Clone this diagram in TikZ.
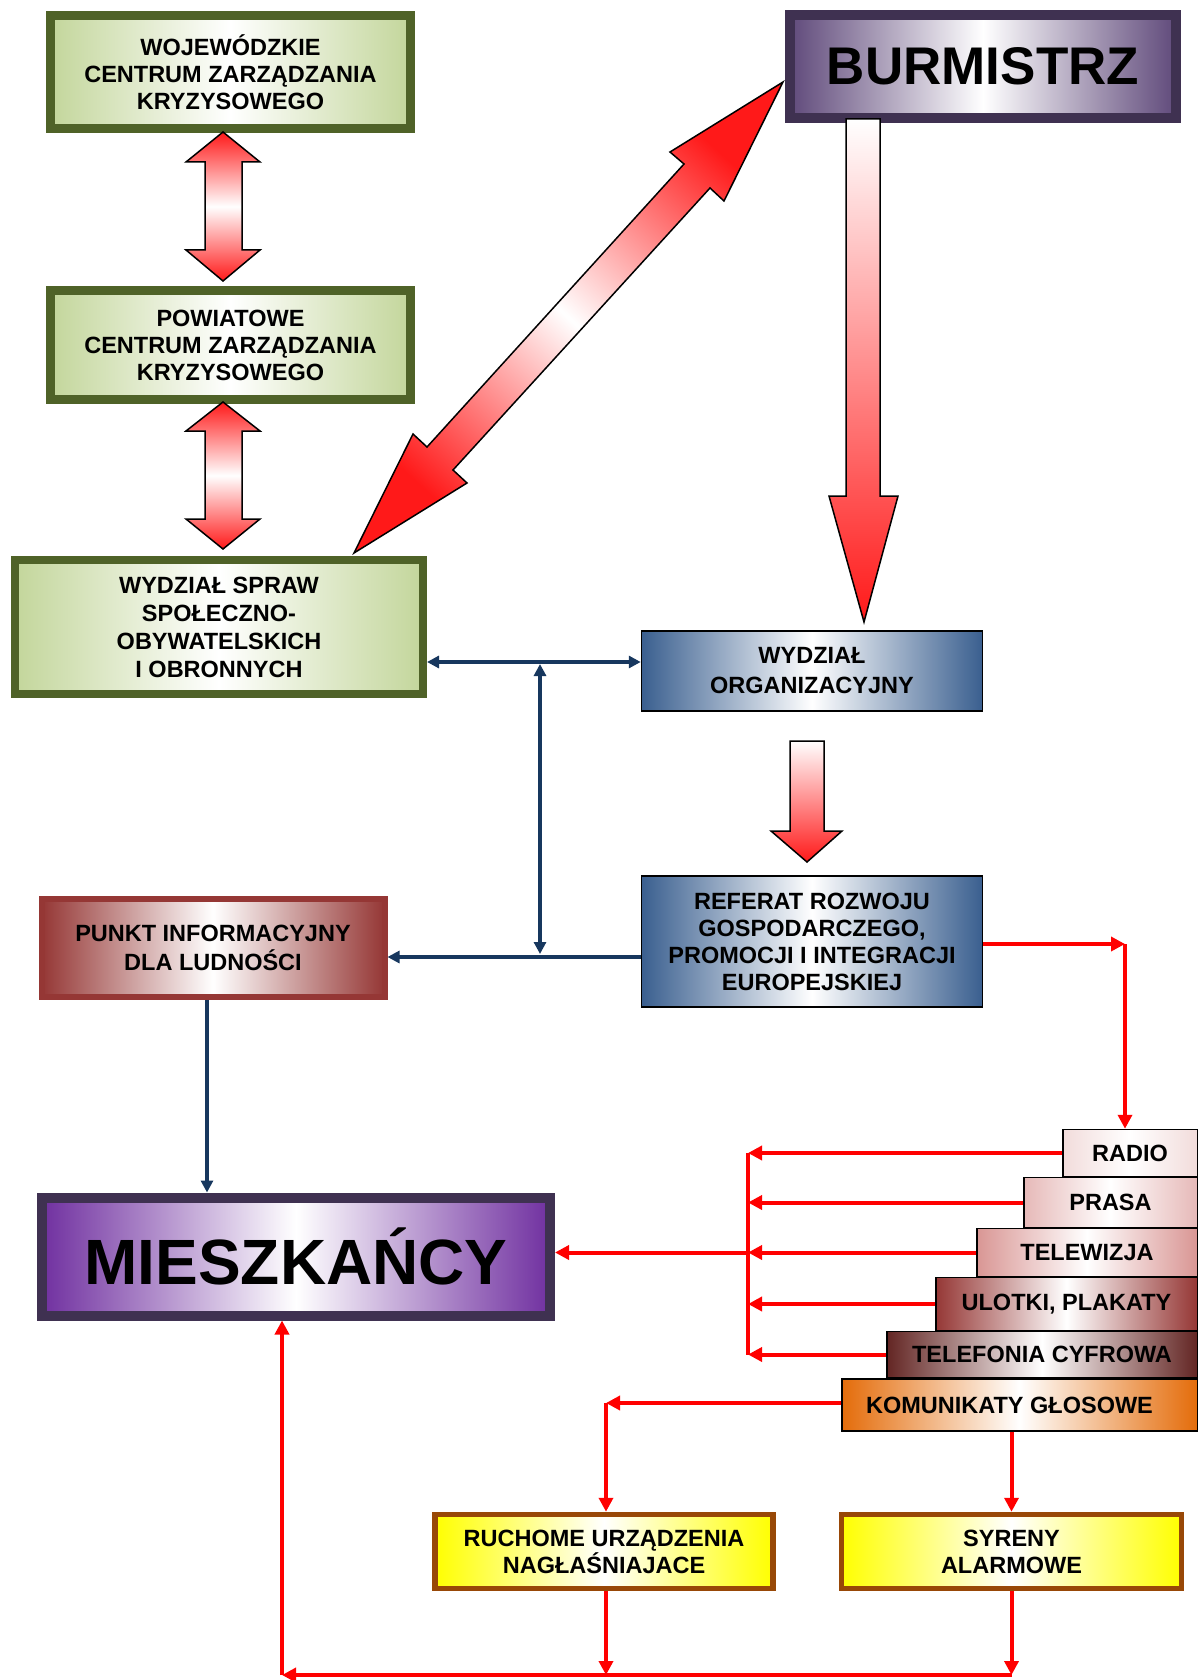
\documentclass[tikz,border=0pt]{standalone}
\usepackage{fontspec}
\setmainfont{Liberation Sans}
\usetikzlibrary{arrows.meta,calc}
\definecolor{greenside}{RGB}{195,214,155}
\definecolor{greenborder}{RGB}{79,98,40}
\definecolor{burmborder}{RGB}{63,49,81}
\definecolor{burmside}{RGB}{96,74,123}
\definecolor{blueside}{RGB}{58,95,143}
\definecolor{punktside}{RGB}{149,55,53}
\definecolor{miesside}{RGB}{112,48,160}
\definecolor{radioside}{RGB}{242,220,219}
\definecolor{prasaside}{RGB}{230,185,184}
\definecolor{tvside}{RGB}{217,150,148}
\definecolor{ulotside}{RGB}{149,55,53}
\definecolor{telside}{RGB}{99,37,35}
\definecolor{komside}{RGB}{228,108,10}
\definecolor{yelside}{RGB}{255,255,0}
\definecolor{yelborder}{RGB}{152,72,7}
\definecolor{redline}{RGB}{255,0,0}
\definecolor{blueline}{RGB}{23,55,94}
\definecolor{arrowred}{RGB}{255,25,25}
\tikzset{
  box/.style={inner sep=0pt, align=center, text=black, font=\fontsize{23.5}{27}\selectfont\bfseries},
  greenbox/.style={box, draw=greenborder, line width=9pt, left color=greenside, right color=greenside, middle color=white},
  burmbox/.style={box, draw=burmborder, line width=10pt, left color=burmside, right color=burmside, middle color=white, font=\fontsize{53}{60}\selectfont\bfseries},
  bluebox/.style={box, draw=black, line width=1.5pt, left color=blueside, right color=blueside, middle color=white},
  punktbox/.style={box, draw=punktside, line width=6pt, left color=punktside, right color=punktside, middle color=white, font=\fontsize{23.5}{29}\selectfont\bfseries},
  miesbox/.style={box, draw=burmborder, line width=10pt, left color=miesside, right color=miesside, middle color=white, font=\fontsize{64}{70}\selectfont\bfseries},
  mediabox/.style={box, draw=black, line width=1.5pt, left color=#1, right color=#1, middle color=white},
  yelbox/.style={box, draw=yelborder, line width=5.5pt, left color=yelside, right color=yelside, middle color=white},
  redconn/.style={draw=redline, line width=4pt, -{Triangle[length=14pt,width=14pt]}},
  redplain/.style={draw=redline, line width=4pt},
  blueconn/.style={draw=blueline, line width=3.5pt, -{Triangle[length=12pt,width=12pt]}},
  bluetwo/.style={draw=blueline, line width=3.5pt, {Triangle[length=12pt,width=12pt]}-{Triangle[length=12pt,width=12pt]}},
  blockarrow/.style={draw=black, line width=1.5pt, line join=miter},
}
\begin{document}
\begin{tikzpicture}[x=1pt,y=-1pt]
\useasboundingbox (0,0) rectangle (1199,1680);

% boxes
\node[greenbox, minimum width=360pt, minimum height=113pt] (woj) at (230.5,72) {WOJEWÓDZKIE\\CENTRUM ZARZĄDZANIA\\KRYZYSOWEGO};
\node[greenbox, minimum width=360pt, minimum height=109pt] (pow) at (230.5,345) {POWIATOWE\\CENTRUM ZARZĄDZANIA\\KRYZYSOWEGO};
\node[greenbox, line width=8pt, minimum width=408pt, minimum height=134pt, font=\fontsize{23.5}{28}\selectfont\bfseries] (spraw) at (219,627) {WYDZIAŁ SPRAW\\SPOŁECZNO-\\OBYWATELSKICH\\I OBRONNYCH};
\node[burmbox, minimum width=386pt, minimum height=103pt] (burm) at (983,66.5) {BURMISTRZ};
\node[bluebox, minimum width=341pt, minimum height=80pt, font=\fontsize{23.5}{30}\selectfont\bfseries] (org) at (812,671) {WYDZIAŁ\\ORGANIZACYJNY};
\node[bluebox, minimum width=341pt, minimum height=131pt] (ref) at (812,941.5) {REFERAT ROZWOJU\\GOSPODARCZEGO,\\PROMOCJI I INTEGRACJI\\EUROPEJSKIEJ};
\node[punktbox, minimum width=343pt, minimum height=98pt] (punkt) at (213,947.5) {PUNKT INFORMACYJNY\\DLA LUDNOŚCI};
\node[miesbox, minimum width=508pt, minimum height=118pt] (mies) at (296,1256.5) {MIESZKAŃCY};

\node[mediabox=radioside, minimum width=134.5pt, minimum height=47pt] (radio) at (1130,1153) {RADIO};
\node[mediabox=prasaside, minimum width=173.5pt, minimum height=50pt] (prasa) at (1110.5,1202.5) {PRASA};
\node[mediabox=tvside, minimum width=220.5pt, minimum height=48pt] (tv) at (1087,1252.5) {TELEWIZJA};
\node[mediabox=ulotside, minimum width=261.5pt, minimum height=53pt] (ulot) at (1066.5,1304) {ULOTKI, PLAKATY};
\node[mediabox=telside, minimum width=310.5pt, minimum height=46pt] (tel) at (1042,1354.5) {TELEFONIA CYFROWA};
\node[mediabox=komside, minimum width=355.5pt, minimum height=52pt] (kom) at (1019.5,1405) {KOMUNIKATY GŁOSOWE\hspace*{20pt}};

\node[yelbox, minimum width=338pt, minimum height=74pt] (ruch) at (604,1551.5) {RUCHOME URZĄDZENIA\\NAGŁAŚNIAJACE};
\node[yelbox, minimum width=340pt, minimum height=74pt] (syr) at (1011.5,1551.5) {SYRENY\\ALARMOWE};

% block arrows
\draw[blockarrow, top color=arrowred, bottom color=arrowred, middle color=white]
  (223,132) -- (260,162) -- (242,162) -- (242,250) -- (260,250) -- (223,281) -- (186,250) -- (205,250) -- (205,162) -- (186,162) -- cycle;
\draw[blockarrow, top color=arrowred, bottom color=arrowred, middle color=white]
  (223,402) -- (260,431) -- (242,431) -- (242,519) -- (260,519) -- (223,549) -- (186,519) -- (205,519) -- (205,431) -- (186,431) -- cycle;
\draw[blockarrow, top color=arrowred, bottom color=arrowred, middle color=white, shading angle=-42.3]
  (783,82) -- (724,201) -- (710,188) -- (453,470) -- (467,483) -- (354,553) -- (413,434) -- (427,447) -- (684,164) -- (670,152) -- cycle;
\draw[blockarrow, top color=white, bottom color=arrowred]
  (846,119) -- (880,119) -- (880,496) -- (898,496) -- (864,622) -- (829,496) -- (846,496) -- cycle;
\draw[blockarrow, top color=white, bottom color=arrowred]
  (790,741) -- (824,741) -- (824,831) -- (842,831) -- (807,862) -- (771,831) -- (790,831) -- cycle;

% blue connectors
\coordinate (j1) at (540,662);
\coordinate (j2) at (540,954);
\coordinate (j3) at (540,957);
\coordinate (p1) at (207,0);
\draw[bluetwo] (spraw.east |- j1) -- (org.west |- j1);
\draw[bluetwo] ($(j1)+(0,2)$) -- (j2);
\draw[blueconn] (ref.west |- j3) -- (punkt.east |- j3);
\draw[blueconn] (punkt.south -| p1) -- (mies.north -| p1);

% red connectors
\coordinate (r1) at (1125,944);
\draw[redconn] (ref.east |- r1) -- (r1);
\draw[redconn] (r1) -- (radio.north -| r1);
\coordinate (v) at (748,0);
\draw[redplain] (v |- radio.west) -- (v |- tel.west);
\draw[redconn] (radio.west) -- (v |- radio.west);
\draw[redconn] (prasa.west) -- (v |- prasa.west);
\draw[redconn] (tv.west) -- (v |- tv.west);
\draw[redconn] (ulot.west) -- (v |- ulot.west);
\draw[redconn] (tel.west) -- (v |- tel.west);
\draw[redconn] (v |- tv.west) -- (mies.east |- tv.west);
\coordinate (k1) at (606,1403);
\draw[redconn] (kom.west |- k1) -- (k1);
\draw[redconn] (k1) -- (ruch.north -| k1);
\draw[redconn] (syr.north |- kom.south) -- (syr.north);
\coordinate (b0) at (282,1675);
\draw[redconn] (ruch.south -| k1) -- (k1 |- b0);
\draw[redconn] (syr.south) -- (syr.south |- b0);
\draw[redconn] (syr.south |- b0) -- (b0);
\draw[redconn] (b0) -- (mies.south -| b0);
\end{tikzpicture}
\end{document}
